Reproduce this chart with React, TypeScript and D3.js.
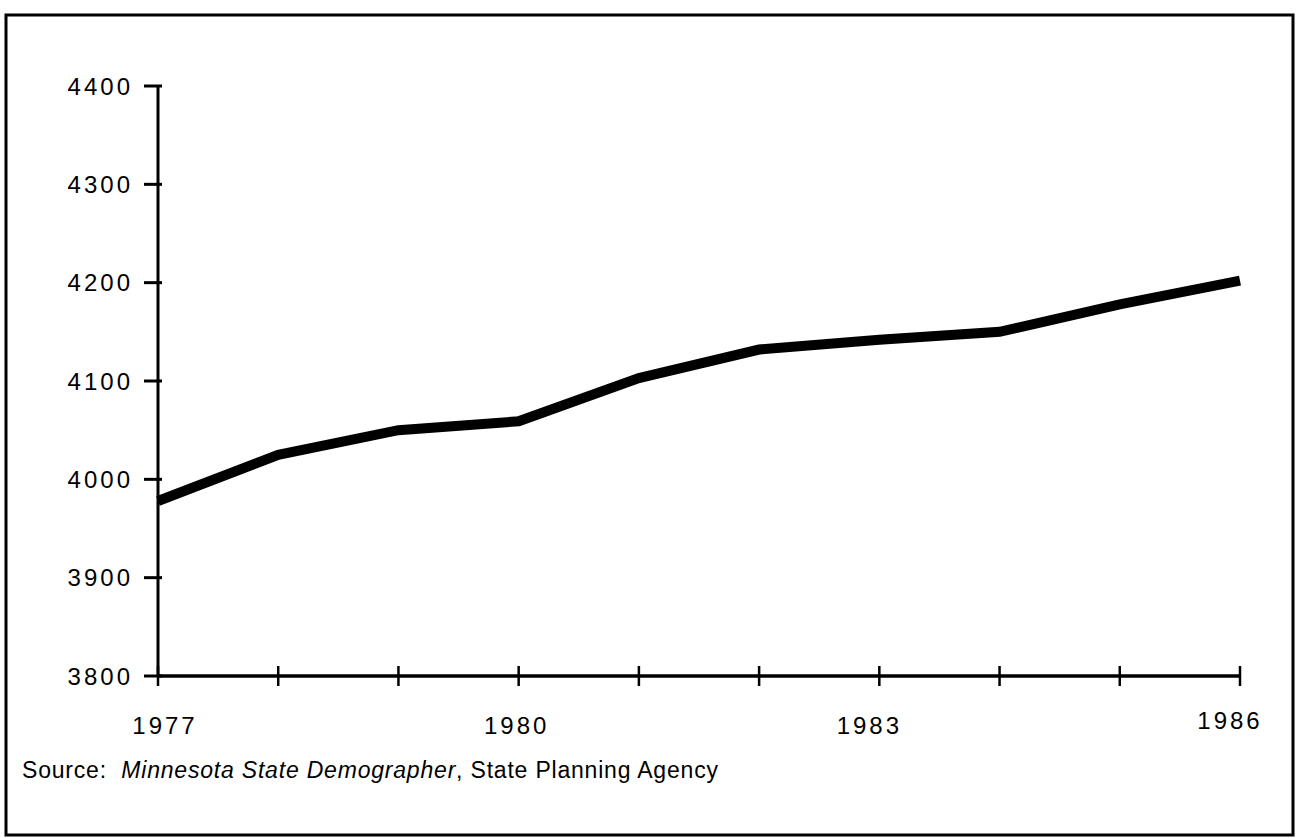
import React from 'react';
import * as d3 from 'd3';

const years = [1977, 1978, 1979, 1980, 1981, 1982, 1983, 1984, 1985, 1986];
const population = [3978, 4025, 4050, 4059, 4103, 4132, 4142, 4150, 4178, 4202];
const yTicks = [3800, 3900, 4000, 4100, 4200, 4300, 4400];
const xLabels = [1977, 1980, 1983, 1986];

const W = 1296;
const H = 838;
const FONT = '"Liberation Sans", Arial, Helvetica, sans-serif';

// the old typesetting put the year labels a little off their ticks
const labelShift: Record<number, number> = { 1977: 7, 1980: -2, 1983: -10, 1986: -10 };

const App = () => {
    const x = d3.scaleLinear().domain([1977, 1986]).range([158, 1240]);
    const y = d3.scaleLinear().domain([3800, 4400]).range([676, 86]);

    const line = d3.line<number>()
        .x((d, i) => x(years[i]))
        .y(d => y(d));

    const axisY0 = y(3800);
    const axisX0 = x(1977);

    return (
        <svg width={W} height={H} style={{ position: 'absolute', left: 0, top: 0, background: '#fff' }}>
            {/* frame */}
            <rect x={6} y={15} width={1287} height={820} fill="none" stroke="#000" strokeWidth={3} />

            {/* y axis */}
            <line x1={axisX0} x2={axisX0} y1={y(4400)} y2={axisY0} stroke="#000" strokeWidth={3} />
            {yTicks.map(t => (
                <g key={t}>
                    <line x1={axisX0 - 14} x2={axisX0 + 4} y1={y(t)} y2={y(t)} stroke="#000" strokeWidth={3} />
                    <text x={133} y={y(t)} dy="0.36em" textAnchor="end"
                          fontFamily={FONT} fontSize={24} letterSpacing={3}>{t}</text>
                </g>
            ))}

            {/* x axis */}
            <line x1={axisX0} x2={x(1986)} y1={axisY0} y2={axisY0} stroke="#000" strokeWidth={3.5} />
            {years.map(yr => (
                <line key={yr} x1={x(yr)} x2={x(yr)} y1={axisY0 - 10} y2={axisY0 + 10} stroke="#000" strokeWidth={2.5} />
            ))}
            {xLabels.map(yr => (
                <text key={yr} x={x(yr) + labelShift[yr]} y={yr === 1986 ? 729 : 734} textAnchor="middle"
                      fontFamily={FONT} fontSize={24} letterSpacing={3}>{yr}</text>
            ))}

            {/* data line */}
            <path d={line(population) || ''} fill="none" stroke="#000" strokeWidth={10}
                  strokeLinejoin="miter" strokeLinecap="butt" />

            {/* source */}
            <text x={22} y={778} fontFamily={FONT} fontSize={23} letterSpacing={0.8}>
                Source:{'\u00a0\u00a0'}<tspan fontStyle="italic">Minnesota State Demographer</tspan>, State Planning Agency
            </text>
        </svg>
    );
};

export default App;
